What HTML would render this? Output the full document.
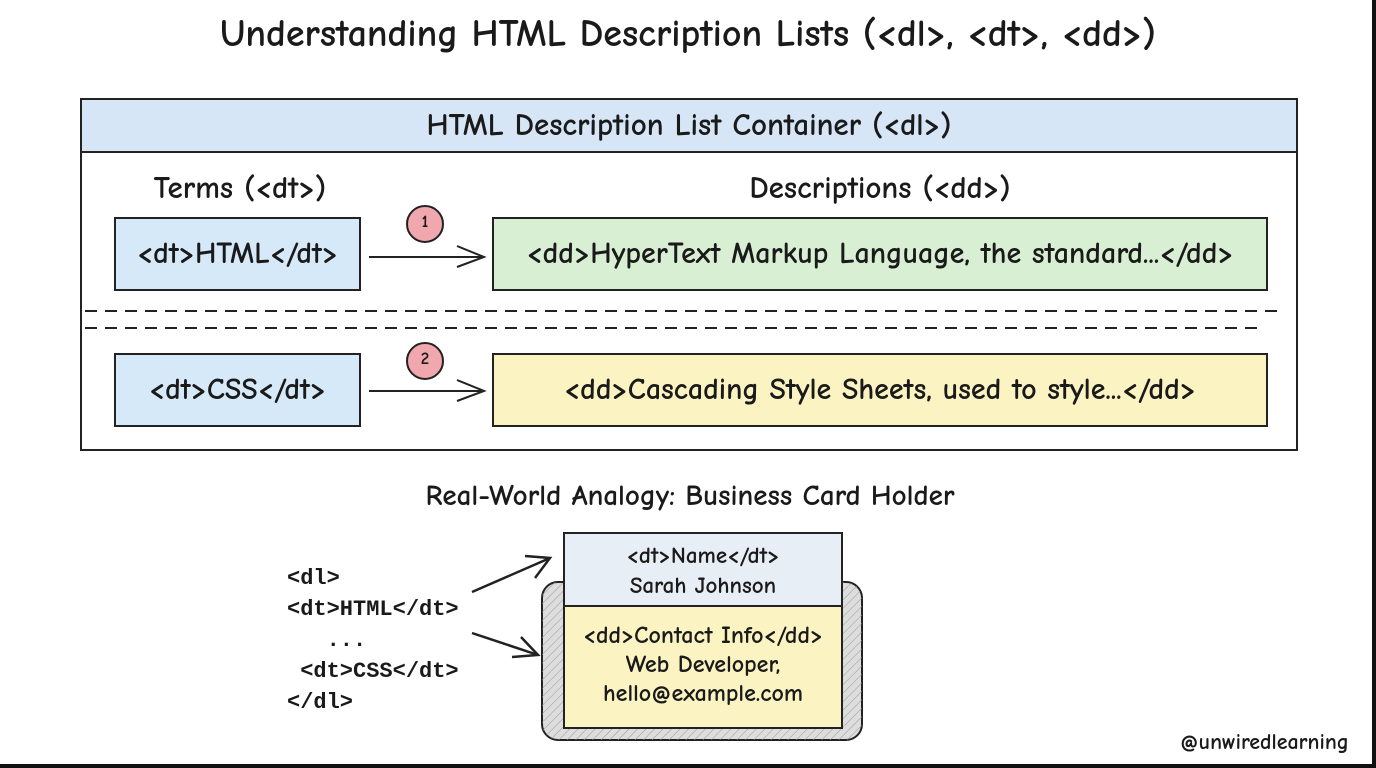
<!DOCTYPE html>
<html><head><meta charset="utf-8"><style>
html,body{margin:0;padding:0;background:#fff}
body{width:1376px;height:768px;position:relative;overflow:hidden;font-family:"Comic Neue","Liberation Sans",sans-serif;color:#1a1a1a;font-weight:700}
.t{position:absolute;white-space:nowrap}
</style></head><body>
<svg width="1376" height="768" style="position:absolute;left:0;top:0">
<defs>
<pattern id="h" width="6" height="6" patternUnits="userSpaceOnUse" patternTransform="rotate(45)"><line x1="0" y1="0" x2="0" y2="6" stroke="#999" stroke-width="1"/></pattern>
</defs>
<rect x="0" y="0" width="1376" height="768" fill="#fff"/>
<rect x="1372" y="0" width="4" height="768" fill="#111"/>
<rect x="0" y="764" width="1376" height="4" fill="#111"/>
<rect x="81" y="99" width="1216" height="351" fill="#fff" stroke="#222" stroke-width="2"/>
<rect x="81" y="99" width="1216" height="53" fill="#d6e6f7" stroke="#222" stroke-width="2"/>
<rect x="115" y="218" width="245" height="72" fill="#d6e9f8" stroke="#222" stroke-width="2"/>
<rect x="493" y="218" width="774" height="72" fill="#d9efd4" stroke="#222" stroke-width="2"/>
<line x1="369" y1="257" x2="482" y2="257" stroke="#222" stroke-width="2"/>
<polyline points="457,246 484,257 457,267" fill="none" stroke="#222" stroke-width="2"/>
<circle cx="425" cy="224" r="18" fill="#f1a7ae" stroke="#222" stroke-width="2"/>
<line x1="85" y1="311" x2="1280" y2="311" stroke="#222" stroke-width="2" stroke-dasharray="12,8"/>
<line x1="85" y1="328" x2="1260" y2="328" stroke="#222" stroke-width="2" stroke-dasharray="12,8"/>
<rect x="115" y="354" width="245" height="72" fill="#d6e9f8" stroke="#222" stroke-width="2"/>
<rect x="493" y="354" width="774" height="72" fill="#fbf4c2" stroke="#222" stroke-width="2"/>
<line x1="369" y1="391" x2="482" y2="391" stroke="#222" stroke-width="2"/>
<polyline points="457,380 484,391 457,401" fill="none" stroke="#222" stroke-width="2"/>
<circle cx="425" cy="361" r="18" fill="#f1a7ae" stroke="#222" stroke-width="2"/>
<rect x="542" y="582" width="320" height="158" rx="16" fill="#ddd" stroke="#222" stroke-width="2"/>
<rect x="542" y="582" width="320" height="158" rx="16" fill="url(#h)"/>
<rect x="564" y="533" width="278" height="73" fill="#e8eef6" stroke="#222" stroke-width="2"/>
<rect x="564" y="606" width="278" height="122" fill="#fbf4c2" stroke="#222" stroke-width="2"/>
<line x1="472" y1="592" x2="550" y2="558" stroke="#222" stroke-width="2.5"/>
<polyline points="525,556 550,558 535,578" fill="none" stroke="#222" stroke-width="2.5"/>
<line x1="472" y1="633" x2="538" y2="655" stroke="#222" stroke-width="2.5"/>
<polyline points="521,637 538,655 512,657" fill="none" stroke="#222" stroke-width="2.5"/>
</svg>
<div class="t" style="left:0;width:1376px;text-align:center;top:12px;font-size:38px">Understanding HTML Description Lists (&lt;dl&gt;, &lt;dt&gt;, &lt;dd&gt;)</div>
<div class="t" style="left:81px;width:1216px;text-align:center;top:107px;font-size:31px">HTML Description List Container (&lt;dl&gt;)</div>
<div class="t" style="left:120px;width:240px;text-align:center;top:170px;font-size:31px">Terms (&lt;dt&gt;)</div>
<div class="t" style="left:720px;width:320px;text-align:center;top:170px;font-size:31px">Descriptions (&lt;dd&gt;)</div>
<div class="t" style="left:115px;width:245px;text-align:center;top:236px;font-size:30px">&lt;dt&gt;HTML&lt;/dt&gt;</div>
<div class="t" style="left:493px;width:774px;text-align:center;top:236px;font-size:30px">&lt;dd&gt;HyperText Markup Language, the standard...&lt;/dd&gt;</div>
<div class="t" style="left:115px;width:245px;text-align:center;top:372px;font-size:30px">&lt;dt&gt;CSS&lt;/dt&gt;</div>
<div class="t" style="left:493px;width:774px;text-align:center;top:372px;font-size:30px">&lt;dd&gt;Cascading Style Sheets, used to style...&lt;/dd&gt;</div>
<div class="t" style="left:407px;width:36px;text-align:center;top:213px;font-size:17px">1</div>
<div class="t" style="left:407px;width:36px;text-align:center;top:350px;font-size:17px">2</div>
<div class="t" style="left:0;width:1380px;text-align:center;top:480px;font-size:29px">Real-World Analogy: Business Card Holder</div>
<div class="t" style="left:287px;top:563px;font-size:22px;line-height:31px;font-family:'Liberation Mono',monospace">&lt;dl&gt;<br>&lt;dt&gt;HTML&lt;/dt&gt;<br>&nbsp;&nbsp;&nbsp;...<br>&nbsp;&lt;dt&gt;CSS&lt;/dt&gt;<br>&lt;/dl&gt;</div>
<div class="t" style="left:564px;width:278px;text-align:center;top:541px;font-size:23px;line-height:30px">&lt;dt&gt;Name&lt;/dt&gt;<br>Sarah Johnson</div>
<div class="t" style="left:564px;width:278px;text-align:center;top:621px;font-size:24px;line-height:29px">&lt;dd&gt;Contact Info&lt;/dd&gt;<br>Web Developer,<br>hello@example.com</div>
<div class="t" style="left:1180px;top:729px;font-size:22px">@unwiredlearning</div>
</body></html>
